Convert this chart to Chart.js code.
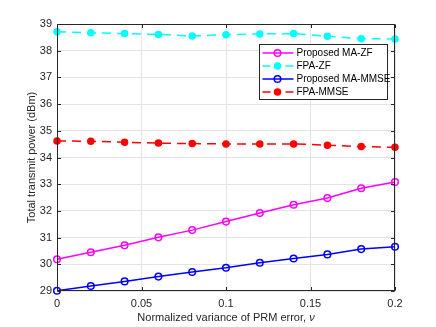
<!DOCTYPE html>
<html><head><meta charset="utf-8">
<script src="https://cdn.jsdelivr.net/npm/chart.js@4/dist/chart.umd.min.js"></script>
<style>html,body{margin:0;padding:0;background:#fff}#wrap{width:436px;height:327px}</style>
</head><body><div id="wrap"><canvas id="c" width="436" height="327"></canvas></div>
<script>
// ---- data ----
const nu = [0, 0.02, 0.04, 0.06, 0.08, 0.1, 0.12, 0.14, 0.16, 0.18, 0.2];
const maZF = [30.19, 30.45, 30.71, 31.01, 31.28, 31.60, 31.92, 32.23, 32.48, 32.85, 33.08];
const fpaZF = [38.71, 38.67, 38.64, 38.61, 38.55, 38.60, 38.63, 38.64, 38.54, 38.45, 38.44];
const maMMSE = [29.01, 29.19, 29.36, 29.54, 29.71, 29.87, 30.06, 30.22, 30.37, 30.57, 30.66];
const fpaMMSE = [34.62, 34.61, 34.57, 34.54, 34.52, 34.51, 34.51, 34.51, 34.46, 34.41, 34.38];
const seriesLabels = ['Proposed MA-ZF', 'FPA-ZF', 'Proposed MA-MMSE', 'FPA-MMSE'];
const xTicks = [0, 0.05, 0.1, 0.15, 0.2];
const yTicks = [29, 30, 31, 32, 33, 34, 35, 36, 37, 38, 39];
const xTitle = 'Normalized variance of PRM error, ';
const xTitleSym = 'ν';
const yTitle = 'Total transmit power (dBm)';

const FONT = '"Liberation Sans", Arial, sans-serif';
const TXT = '#262626';
const pts = arr => nu.map((x, i) => ({x: x, y: arr[i]}));

function ds(label, data, color, dashed) {
  return {
    label: label, data: pts(data),
    borderColor: color, borderWidth: 1.5,
    borderDash: dashed ? [9, 6] : [],
    pointRadius: dashed ? 3 : 3.3, pointHoverRadius: dashed ? 3 : 3.3,
    pointBorderWidth: 1.5,
    pointBorderColor: color,
    pointBackgroundColor: dashed ? color : 'rgba(0,0,0,0)',
    pointStyle: 'circle',
    fill: false, tension: 0, clip: false
  };
}

const framePlugin = {
  id: 'frame',
  afterDatasetsDraw(chart) {
    const {ctx, chartArea: a, scales} = chart;
    ctx.save();
    ctx.strokeStyle = TXT; ctx.lineWidth = 1; ctx.setLineDash([]);
    const L = Math.round(a.left) + 0.5, R = Math.round(a.right) - 0.5;
    const T = Math.round(a.top) + 0.5, B = Math.round(a.bottom) - 0.5;
    ctx.strokeRect(L, T, R - L, B - T);
    ctx.beginPath();
    xTicks.forEach(v => {
      const px = Math.round(scales.x.getPixelForValue(v)) + 0.5;
      ctx.moveTo(px, B); ctx.lineTo(px, B - 3.5);
      ctx.moveTo(px, T); ctx.lineTo(px, T + 3.5);
    });
    yTicks.forEach(v => {
      const py = Math.round(scales.y.getPixelForValue(v)) + 0.5;
      ctx.moveTo(L, py); ctx.lineTo(L + 3.5, py);
      ctx.moveTo(R, py); ctx.lineTo(R - 3.5, py);
    });
    ctx.stroke();
    // axis titles
    ctx.fillStyle = TXT;
    ctx.textBaseline = 'middle';
    ctx.font = '11px ' + FONT;
    const w1 = ctx.measureText(xTitle).width;
    ctx.font = 'italic 11px ' + FONT;
    const w2 = ctx.measureText(xTitleSym).width;
    const cx = (a.left + a.right) / 2;
    let sx = cx - (w1 + w2) / 2;
    ctx.textAlign = 'left';
    ctx.font = '11px ' + FONT;
    ctx.fillText(xTitle, sx, 318);
    ctx.font = 'italic 11px ' + FONT;
    ctx.fillText(xTitleSym, sx + w1, 318);
    ctx.save();
    ctx.translate(32, (a.top + a.bottom) / 2);
    ctx.rotate(-Math.PI / 2);
    ctx.textAlign = 'center';
    ctx.font = '11px ' + FONT;
    ctx.fillText(yTitle, 0, 0);
    ctx.restore();
    ctx.restore();
  }
};

const legendPlugin = {
  id: 'mlegend',
  afterDraw(chart) {
    const {ctx, chartArea: a} = chart;
    const x0 = Math.round(a.right) - 135.5, y0 = Math.round(a.top) + 20.5, w = 128, h = 55;
    ctx.save();
    ctx.fillStyle = '#fff'; ctx.fillRect(x0, y0, w, h);
    ctx.strokeStyle = TXT; ctx.lineWidth = 1; ctx.setLineDash([]);
    ctx.strokeRect(x0, y0, w, h);
    chart.data.datasets.forEach((d, i) => {
      const y = y0 + 8.5 + i * 13;
      const lx = x0 + 3, mx = x0 + 18;
      ctx.strokeStyle = d.borderColor; ctx.lineWidth = d.borderWidth;
      ctx.setLineDash(d.borderDash.length ? [8, 15] : []);
      ctx.beginPath(); ctx.moveTo(lx, y); ctx.lineTo(lx + 31, y); ctx.stroke();
      ctx.setLineDash([]);
      ctx.beginPath(); ctx.arc(mx, y, d.pointRadius, 0, 2 * Math.PI);
      ctx.fillStyle = d.pointBackgroundColor; ctx.fill();
      ctx.lineWidth = d.pointBorderWidth; ctx.stroke();
      ctx.fillStyle = '#000'; ctx.font = '10px ' + FONT;
      ctx.textBaseline = 'middle'; ctx.textAlign = 'left';
      ctx.fillText(d.label, x0 + 37, y + 0.5);
    });
    ctx.restore();
  }
};

new Chart(document.getElementById('c'), {
  type: 'line',
  data: {
    datasets: [
      ds(seriesLabels[0], maZF, '#ff00ff', false),
      ds(seriesLabels[1], fpaZF, '#00ffff', true),
      ds(seriesLabels[2], maMMSE, '#0000ff', false),
      ds(seriesLabels[3], fpaMMSE, '#ff0000', true)
    ]
  },
  options: {
    responsive: false, animation: false, devicePixelRatio: 1,
    layout: {padding: {left: 0, top: 24, right: 41, bottom: 0}},
    plugins: {legend: {display: false}, tooltip: {enabled: false}},
    scales: {
      x: {
        type: 'linear', min: 0, max: 0.2,
        afterFit: s => { s.height = 36; },
        afterBuildTicks: s => { s.ticks = xTicks.map(v => ({value: v})); },
        grid: {color: '#e4e4e4', drawTicks: false},
        border: {display: false},
        ticks: {padding: 6, color: TXT, font: {family: FONT, size: 11},
                callback: v => String(+v.toFixed(2)), maxRotation: 0, autoSkip: false}
      },
      y: {
        type: 'linear', min: 29, max: 39,
        afterFit: s => { s.width = 57; },
        afterBuildTicks: s => { s.ticks = yTicks.map(v => ({value: v})); },
        grid: {color: '#e4e4e4', drawTicks: false},
        border: {display: false},
        ticks: {padding: 5, color: TXT, font: {family: FONT, size: 11}, autoSkip: false}
      }
    }
  },
  plugins: [framePlugin, legendPlugin]
});
</script>
</body></html>
